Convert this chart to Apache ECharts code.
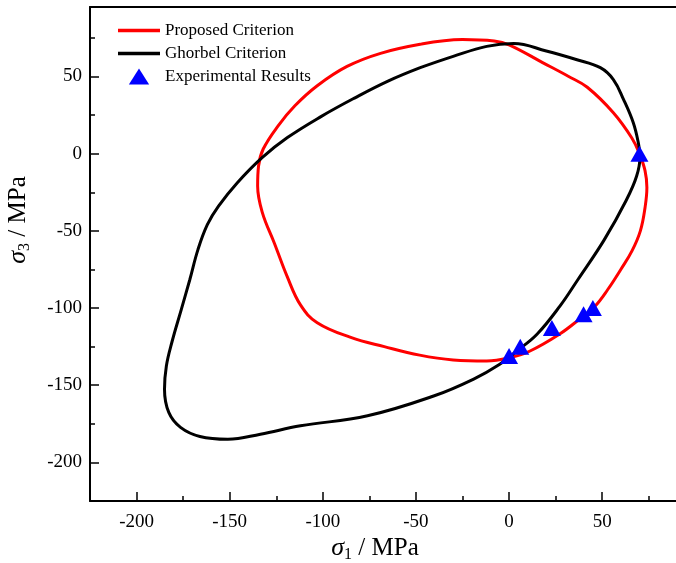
<!DOCTYPE html>
<html>
<head>
<meta charset="utf-8">
<script src="https://cdn.jsdelivr.net/npm/echarts@6/dist/echarts.min.js"></script>
<style>
html,body{margin:0;padding:0;background:#fff;}
#chart{width:676px;height:563px;}
</style>
</head>
<body>
<div id="chart"></div>
<script>
// ---- data (sigma1, sigma3) in MPa ----
const proposedCriterion = [
  [-47,71],[-25,74],[-8,73],[0,70.5],[18,59],[32,50],[42,43],[56,26.5],[66,10],[70,0],
  [73,-11],[74,-22],[73,-35],[70.5,-50],[66,-63],[60,-75],[53,-88],[46,-99],[38,-107],[27,-117],[11,-128],
  [0,-132.3],[-12,-134.3],[-30,-133.6],[-48,-130.5],[-67,-125],[-85,-119],[-103,-109.5],
  [-112,-98],[-119,-80],[-126,-58],[-132.5,-38],[-135,-21],[-134.5,-8],[-132,3],[-124,18],
  [-115,31],[-103,44],[-87,56.5],[-69,65],[-47,71]
];
const ghorbelCriterion = [
  [-47.7,55.7],[-30,63],[-12,69.5],[2.5,71.3],[20,66.5],[36,61],[49,55.7],[56,48],[61.5,35],
  [66.7,20],[69.4,7],[70.3,-1.6],[68.5,-14.5],[63,-30],[51,-56],[37,-81.5],[27.4,-98.6],
  [15,-117],[4,-128],[-5,-136.4],[-19,-146],[-40.5,-157],[-76,-169.8],[-112,-176.3],
  [-133.5,-181.7],[-151,-185],[-166,-183.2],[-176.4,-177.3],[-182.7,-167.6],[-185,-152.6],
  [-184,-137.5],[-181,-122],[-176,-101],[-171.5,-82],[-167,-62],[-162,-46],[-156,-34],[-146,-19],
  [-132.6,-2.6],[-119,10.4],[-101,24],[-83,36],[-65,47],[-47.7,55.7]
];
const experimentalResults = [
  [70,0],[0,-131],[6,-125],[23,-113],[40,-104],[45,-100]
];
const xMajorTicks = [-200,-150,-100,-50,0,50];
const xMinorTicks = [-175,-125,-75,-25,25,75];
const yMajorTicks = [-200,-150,-100,-50,0,50];
const yMinorTicks = [-175,-125,-75,-25,25,75];
const seriesNames = ['Proposed Criterion','Ghorbel Criterion','Experimental Results'];

const FONT = "'Liberation Serif','Times New Roman',serif";
const chart = echarts.init(document.getElementById('chart'), null, {renderer:'canvas'});

function majorAxis(pos, ticks){
  return {
    type:'value', min:-225, max:95, position:pos,
    axisLine:{show:true, onZero:false, lineStyle:{color:'#000', width:2}},
    axisTick:{show:true, inside:true, length:9, customValues:ticks, lineStyle:{color:'#000', width:1.5}},
    axisLabel:{show:true, customValues:ticks, color:'#000', fontSize:19, fontFamily:FONT, margin: pos==='bottom'?12:8},
    splitLine:{show:false}
  };
}
function minorAxis(pos, ticks){
  return {
    type:'value', min:-225, max:95, position:pos,
    axisLine:{show:false, onZero:false},
    axisTick:{show:true, inside:true, length:5, customValues:ticks, lineStyle:{color:'#000', width:1.5}},
    axisLabel:{show:false},
    splitLine:{show:false}
  };
}
function borderAxis(pos){
  return {
    type:'value', min:-225, max:95, position:pos,
    axisLine:{show:true, onZero:false, lineStyle:{color:'#000', width:2}},
    axisTick:{show:false}, axisLabel:{show:false}, splitLine:{show:false}
  };
}

const lineIcon = 'path://M0,0L42,0L42,3.4L0,3.4Z';
const triIcon = 'path://M9.5,0L19,15L0,15Z';

chart.setOption({
  animation:false,
  backgroundColor:'#fff',
  grid:{left:90, top:7, width:596, height:494, show:false, containLabel:false, outerBoundsMode:'none'},
  xAxis:[majorAxis('bottom', xMajorTicks), minorAxis('bottom', xMinorTicks), borderAxis('top')],
  yAxis:[majorAxis('left', yMajorTicks), minorAxis('left', yMinorTicks)],
  legend:{
    orient:'vertical', left:118, top:22, padding:0, itemWidth:42, itemHeight:16, itemGap:6,
    textStyle:{color:'#000', fontSize:17, fontFamily:FONT, lineHeight:16},
    data:[
      {name:seriesNames[0], icon:lineIcon},
      {name:seriesNames[1], icon:lineIcon},
      {name:seriesNames[2], icon:triIcon}
    ]
  },
  graphic:[
    {type:'text', x:375, y:548, style:{
      text:'{s|σ}{b|1} / MPa', align:'center', verticalAlign:'middle',
      fontSize:25, fontFamily:FONT, fill:'#000',
      rich:{s:{fontStyle:'italic', fontSize:26, fontFamily:FONT}, b:{fontSize:16, fontFamily:FONT, padding:[13,0,0,0]}}
    }},
    {type:'text', x:18, y:220, rotation:Math.PI/2, style:{
      text:'{s|σ}{b|3} / MPa', align:'center', verticalAlign:'middle',
      fontSize:25, fontFamily:FONT, fill:'#000',
      rich:{s:{fontStyle:'italic', fontSize:26, fontFamily:FONT}, b:{fontSize:16, fontFamily:FONT, padding:[13,0,0,0]}}
    }}
  ],
  series:[
    {name:seriesNames[0], type:'line', data:proposedCriterion, symbol:'none', smooth:0.4,
     lineStyle:{color:'#ff0000', width:3}, itemStyle:{color:'#ff0000'}, z:2},
    {name:seriesNames[1], type:'line', data:ghorbelCriterion, symbol:'none', smooth:0.4,
     lineStyle:{color:'#000000', width:3}, itemStyle:{color:'#000000'}, z:3},
    {name:seriesNames[2], type:'scatter', data:experimentalResults, symbol:'triangle', symbolSize:[18,16],
     itemStyle:{color:'#0000ff', opacity:1}, z:5}
  ]
});
</script>
</body>
</html>
